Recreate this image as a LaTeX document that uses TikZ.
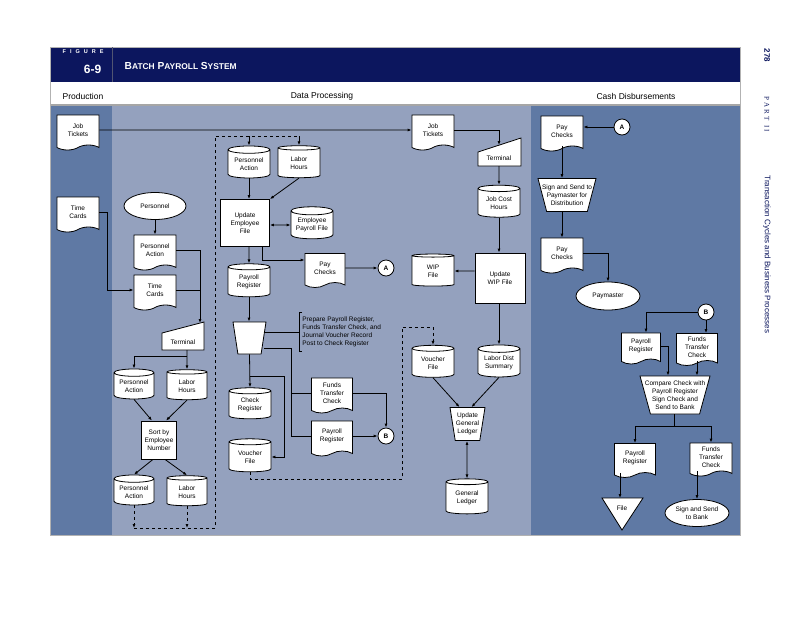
\documentclass[tikz,border=0pt]{standalone}
\usepackage{fontspec}
\setmainfont{Liberation Sans}
\newfontfamily\partfont{Liberation Serif}
\usepackage{tikz}
\usetikzlibrary{positioning}
\usetikzlibrary{shapes.geometric}
\usetikzlibrary{shapes.symbols}
\usetikzlibrary{arrows.meta}
\usepackage{color}
\definecolor{navy}{HTML}{0C165E}
\definecolor{lanedark}{HTML}{5F79A4}
\definecolor{lanelight}{HTML}{94A1BE}

\tikzset{
  lbl/.style={font=\fontsize{6.5}{8}\selectfont,align=center,inner sep=0pt},
  doc/.style={lbl,tape,tape bend top=none,draw,fill=white,minimum width=42,minimum height=35},
  disk/.style={lbl,cylinder,shape border rotate=90,aspect=0.25,draw,fill=white,minimum width=42,minimum height=32},
  proc/.style={lbl,rectangle,draw,fill=white},
  manop/.style={trapezium,shape border rotate=180,trapezium stretches=true,trapezium angle=78,draw,fill=white,inner sep=2pt},
  actor/.style={lbl,ellipse,draw,fill=white,minimum width=62,minimum height=27},
  conn/.style={circle,draw,fill=white,minimum size=16,inner sep=0pt,font=\fontsize{6.5}{8}\selectfont\bfseries},
  lane/.style={font=\fontsize{8.5}{10}\selectfont}
}

\begin{document}
\begin{tikzpicture}[x=1pt,y=-1pt,line width=0.8pt,>={Latex[length=4pt,width=3pt]}]
    \fill[white] (0,0) rectangle (800,638);
    \useasboundingbox (0,0) rectangle (800,638);

    % frame, header and lanes
    \fill[navy] (50,47) rectangle (740,82);
    \fill[lanedark] (50,105) rectangle (112,535);
    \fill[lanelight] (112,105) rectangle (531,535);
    \fill[lanedark] (531,105) rectangle (740,535);
    \draw[gray!70,line width=1.2pt] (50,105) -- (740,105);
    \draw[gray!60,line width=0.6pt] (50,47) rectangle (740,535);
    \draw[gray!60!navy,line width=0.6pt] (112,47) -- (112,82);

    \node[anchor=west,text=white,font=\fontsize{5.5}{6}\selectfont\bfseries] (figlbl) at (59,52) {F\hspace{4pt}I\hspace{4pt}G\hspace{4pt}U\hspace{4pt}R\hspace{4pt}E};
    \node[anchor=east,text=white,font=\fontsize{12}{12}\selectfont\bfseries] (fignum) at (105,69) {6-9};
    \node[anchor=west,text=white,font=\bfseries] (figttl) at (121,66) {{\fontsize{10.2}{11}\selectfont B}{\fontsize{8.4}{10}\selectfont ATCH} {\fontsize{10.2}{11}\selectfont P}{\fontsize{8.4}{10}\selectfont AYROLL} {\fontsize{10.2}{11}\selectfont S}{\fontsize{8.4}{10}\selectfont YSTEM}};

    \node[lane] (lnprod) at (83,96) {Production};
    \node[lane] (lndp) at (322,96) {Data Processing};
    \node[lane] (lncash) at (636,96) {Cash Disbursements};

    \node[rotate=-90,anchor=west,text=navy,font=\fontsize{8}{9}\selectfont\bfseries] (pgnum) at (767,45) {278};
    \node[rotate=-90,anchor=west,text=navy,font=\partfont\fontsize{7}{9}\selectfont] (partno) at (767,93) {P\hspace{2pt}A\hspace{2pt}R\hspace{2pt}T\hspace{5pt}I\hspace{2pt}I};
    \node[rotate=-90,anchor=west,text=navy,font=\fontsize{8}{9}\selectfont] (parttl) at (767,172) {Transaction Cycles and Business Processes};

    % production
    \node[doc] (jobtk) at (78,130) {Job\\Tickets};
    \node[doc] (timecd) at (78,212) {Time\\Cards};

    % data processing
    \node[actor] (persnl) at (155,206) {Personnel};
    \node[doc] (pact1) at (155,250) {Personnel\\Action};
    \node[doc] (tcard) at (155,290) {Time\\Cards};
    \draw[fill=white] (162,350) -- (204,350) -- (204,322) -- (162,333) -- cycle;
    \node[lbl] (term1) at (183,342) {Terminal};
    \coordinate (term1in) at (200,323);
    \coordinate (term1out) at (187,350);
    \coordinate (split1) at (187,356);
    \node[disk,minimum width=40,minimum height=30] (pact2) at (134,386) {Personnel\\Action};
    \node[disk,minimum width=40,minimum height=30] (lhrs2) at (187,386) {Labor\\Hours};
    \node[proc,minimum width=35,minimum height=38] (sort) at (159,440) {Sort by\\Employee\\Number};
    \node[disk,minimum width=40,minimum height=30] (pact3) at (134,492) {Personnel\\Action};
    \node[disk,minimum width=40,minimum height=30] (lhrs3) at (187,492) {Labor\\Hours};
    \coordinate (loopbot) at (215,528);
    \coordinate (looptop) at (215,136);

    \node[disk] (pact4) at (249,164) {Personnel\\Action};
    \node[disk] (lhrs4) at (299,163) {Labor\\Hours};
    \node[proc,minimum width=49,minimum height=47] (upemp) at (245,223) {Update\\Employee\\File};
    \node[disk] (empfile) at (312,225) {Employee\\Payroll File};
    \node[disk,minimum height=33] (preg1) at (249,282) {Payroll\\Register};
    \node[doc,minimum width=40,minimum height=34] (paychk1) at (325,268) {Pay\\Checks};
    \node[conn] (conA1) at (386,268) {A};
    \node[manop,minimum width=33,minimum height=32] (manop1) at (249.5,338) {};
    \node[lbl,align=left,anchor=west,inner xsep=1pt,inner ysep=4pt] (note) at (301,332) {Prepare Payroll Register,\\Funds Transfer Check, and\\Journal Voucher Record\\Post to Check Register};
    \coordinate (split2) at (250,376);
    \coordinate (fork) at (291,348);
    \node[disk,minimum height=31] (ckreg) at (250,405) {Check\\Register};
    \node[disk,minimum height=33] (voucher1) at (250,457) {Voucher\\File};
    \node[doc,minimum width=41] (ftchk1) at (332,393) {Funds\\Transfer\\Check};
    \node[doc,minimum width=41] (preg2) at (332,436) {Payroll\\Register};
    \node[conn] (conB1) at (386,436) {B};
    \coordinate (dashturn) at (402,327);

    \node[doc] (jobtk2) at (433,130) {Job\\Tickets};
    \draw[fill=white] (478,166) -- (521,166) -- (521,138) -- (478,152) -- cycle;
    \node[lbl] (term2) at (499,158) {Terminal};
    \coordinate (term2in) at (499,145);
    \coordinate (term2out) at (499,166);
    \node[disk] (jch) at (499,203) {Job Cost\\Hours};
    \node[proc,minimum width=50,minimum height=50] (upwip) at (500,278) {Update\\WIP File};
    \node[disk] (wip) at (433,271) {WIP\\File};
    \node[disk] (labdist) at (499,363) {Labor Dist\\Summary};
    \node[disk] (voucher2) at (433,363) {Voucher\\File};
    \node[manop,minimum width=35,minimum height=33,label={[lbl]center:Update\\General\\Ledger}] (manop2) at (467.5,424) {};
    \node[disk,minimum height=35] (genled) at (467,498) {General\\Ledger};

    % cash disbursements
    \node[doc] (paychk2) at (562,131) {Pay\\Checks};
    \node[conn] (conA2) at (622,127) {A};
    \node[manop,minimum width=58,minimum height=33,label={[lbl]center:Sign and Send to\\Paymaster for\\Distribution}] (manop3) at (567,195) {};
    \node[doc] (paychk3) at (562,253) {Pay\\Checks};
    \node[actor,minimum width=64,minimum height=28] (paymstr) at (608,296) {Paymaster};
    \node[conn] (conB2) at (706,312) {B};
    \node[doc,minimum width=39,minimum height=31] (preg3) at (641,346) {Payroll\\Register};
    \node[doc,minimum width=41,minimum height=32] (ftchk2) at (697,347) {Funds\\Transfer\\Check};
    \node[manop,minimum width=70,minimum height=38,label={[lbl]center:Compare Check with\\Payroll Register\\Sign Check and\\Send to Bank}] (manop4) at (675,395) {};
    \coordinate (split4) at (674,426);
    \node[doc,minimum width=41,minimum height=34] (preg4) at (635,458) {Payroll\\Register};
    \node[doc,minimum width=42,minimum height=33] (ftchk3) at (711,457) {Funds\\Transfer\\Check};
    \draw[fill=white] (602,498) -- (643,498) -- (622,530) -- cycle;
    \node[lbl] (file) at (622,508) {File};
    \coordinate (filetop) at (620,498);
    \node[actor,minimum width=64,minimum height=27] (sendbk) at (697,513) {Sign and Send\\to Bank};

    % connectors
    \draw[->] (jobtk) -- (jobtk2);
    \draw[->] (timecd.east) -- ++(8,0) |- (tcard.west);
    \draw[->] (persnl) -- (pact1);
    \draw[->] (pact1.east) -| (term1in);
    \draw (tcard.east) -- (tcard.east -| term1in);
    \draw[->] (term1out) -- (lhrs2.north);
    \draw[->] (split1) -| (pact2.north);
    \draw[->] (pact2.south) -- ([xshift=-7pt]sort.north);
    \draw[->] (lhrs2.south) -- ([xshift=7pt]sort.north);
    \draw[->] ([xshift=-6pt]sort.south) -- (pact3.north);
    \draw[->] ([xshift=6pt]sort.south) -- (lhrs3.north);
    \draw[dashed,->] (pact3.south) -- (pact3.south |- loopbot);
    \draw[dashed,->] (lhrs3.south) -- (lhrs3.south |- loopbot);
    \draw[dashed] (pact3.south |- loopbot) -- (loopbot) -- (looptop) -- (lhrs4.north |- looptop);
    \draw[->] (pact4.north |- looptop) -- (pact4.north);
    \draw[->] (lhrs4.north |- looptop) -- (lhrs4.north);

    \draw[->] (pact4) -- (pact4 |- upemp.north);
    \draw[->] (lhrs4.south) -- (upemp.north east);
    \draw[<->] (upemp.east |- empfile) -- (empfile.west);
    \draw[->] (upemp.south -| preg1) -- (preg1.north);
    \draw[->] ([xshift=17pt]upemp.south) |- ([yshift=8pt]paychk1.west);
    \draw[->] (paychk1) -- (conA1);
    \draw[->] (preg1.south) -- (preg1.south |- manop1.north);
    \draw (manop1.east |- note.west) -- ([xshift=-2pt]note.west);
    \draw ([xshift=1pt]note.north west) -- ([xshift=-2pt]note.north west) -- ([xshift=-2pt]note.south west) -- ([xshift=1pt]note.south west);
    \draw[->] (manop1.south) -- (ckreg.north);
    \draw[->] (split2) -| ([xshift=13pt]voucher1.east) -- (voucher1.east);
    \draw (manop1.east |- fork) -- (fork) |- (preg2.west);
    \draw (fork |- ftchk1.west) -- (ftchk1.west);
    \draw[->] (ftchk1.east) -| (conB1.north);
    \draw[->] (preg2.east) -- (conB1.west);
    \draw[dashed,->] (voucher1.south) |- ([yshift=-7pt]voucher1.south -| dashturn) -- (dashturn) -| (voucher2.north);

    \draw[->] (jobtk2.east) -| (term2in);
    \draw[->] (term2out) -- (jch.north);
    \draw[->] (jch.south) -- (jch.south |- upwip.north);
    \draw[->] (upwip.west |- wip) -- (wip.east);
    \draw[->] (labdist.north |- upwip.south) -- (labdist.north);
    \draw[->] (voucher2.south) -- ([xshift=-8pt]manop2.north);
    \draw[->] (labdist.south) -- ([xshift=4pt]manop2.north);
    \draw[<->] (manop2.south -| genled) -- (genled.north);

    \draw[->] (conA2) -- (conA2 -| paychk2.east);
    \draw[->] (paychk2.south) -- (paychk2.south |- manop3.north);
    \draw[->] (manop3.south -| paychk3) -- (paychk3.north);
    \draw[->] (paychk3.east) -| (paymstr.north);
    \draw[->] (conB2.west) -| ([xshift=5pt]preg3.north);
    \draw[->] (conB2.south) -- (conB2.south |- ftchk2.north);
    \draw[->] (preg3.east) -| ([xshift=-7pt]manop4.north);
    \draw[->] (ftchk2.south) -- (ftchk2.south |- manop4.north);
    \draw (manop4.south -| split4) -- (split4);
    \draw[->] (split4) -| (preg4.north);
    \draw[->] (split4) -| (ftchk3.north);
    \draw[->] (preg4.south -| filetop) -- (filetop);
    \draw[->] (ftchk3.south -| sendbk) -- (sendbk.north);
\end{tikzpicture}
\end{document}
